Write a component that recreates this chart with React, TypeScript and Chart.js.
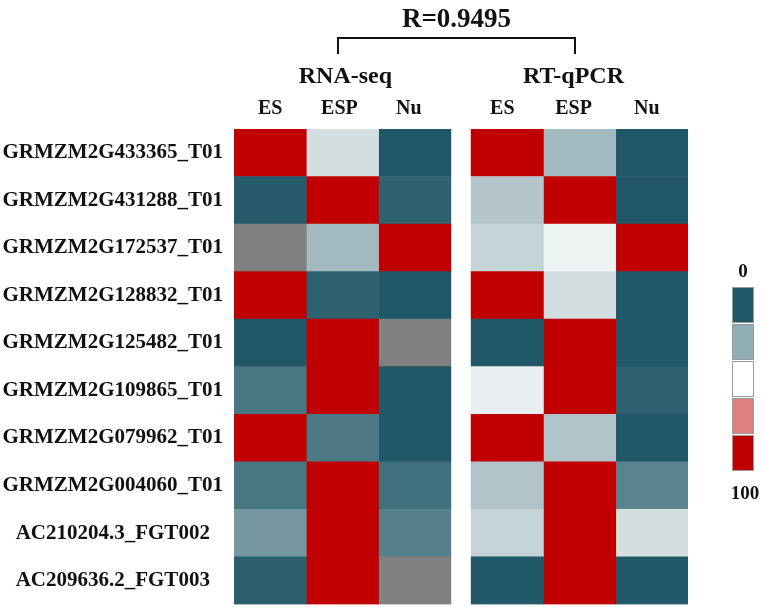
import React, { useEffect, useRef } from "react";
import { Chart, registerables } from "chart.js";

Chart.register(...registerables);

// ---------- data ----------
const genes = [
  "GRMZM2G433365_T01",
  "GRMZM2G431288_T01",
  "GRMZM2G172537_T01",
  "GRMZM2G128832_T01",
  "GRMZM2G125482_T01",
  "GRMZM2G109865_T01",
  "GRMZM2G079962_T01",
  "GRMZM2G004060_T01",
  "AC210204.3_FGT002",
  "AC209636.2_FGT003",
];
const sampleLabels = ["ES", "ESP", "Nu"];
const panelTitles = ["RNA-seq", "RT-qPCR"];
const correlationLabel = "R=0.9495";
const legendLevels = [0, 25, 50, 75, 100];
const legendMinLabel = "0";
const legendMaxLabel = "100";

// relative expression (0-100); null = no value (grey)
const rnaES = [100, 1, null, 100, 0, 9, 100, 9, 19, 2];
const rnaESP = [40, 100, 29, 3, 100, 100, 10, 100, 100, 100];
const rnaNu = [0, 3, 100, 0, null, 0, 0, 7, 12, null];
const qpcrES = [100, 33, 37, 100, 0, 45, 100, 32, 37, 0];
const qpcrESP = [29, 100, 46, 40, 100, 100, 32, 100, 100, 100];
const qpcrNu = [0, 0, 100, 0, 0, 3, 0, 13, 40, 0];

const columns = [rnaES, rnaESP, rnaNu, qpcrES, qpcrESP, qpcrNu];

// ---------- styling ----------
const TEAL = [33, 88, 104];
const WHITE = [255, 255, 255];
const RED = [192, 0, 0];
const NA_COLOR = "#808080";
const GAP = 0.28; // gap between the two panels, in column units
const FONT = "'Liberation Serif', 'Times New Roman', serif";
const HEADER_SHIFT = [0, -3, -6, -5, -6, -5];

function mix(a: number[], b: number[], t: number) {
  const c = a.map((v, i) => Math.round(v + (b[i] - v) * t));
  return `rgb(${c[0]},${c[1]},${c[2]})`;
}
function colorFor(v: number | null) {
  if (v === null || v === undefined) return NA_COLOR;
  if (v <= 50) return mix(TEAL, WHITE, v / 50);
  return mix(WHITE, RED, (v - 50) / 50);
}
function colStart(i: number) {
  return i + (i >= 3 ? GAP : 0);
}

const decorPlugin = {
  id: "decor",
  afterDraw(chart: any) {
    const ctx = chart.ctx as CanvasRenderingContext2D;
    const xs = chart.scales.x;
    ctx.save();
    ctx.fillStyle = "#111";
    ctx.textAlign = "center";
    ctx.textBaseline = "alphabetic";

    // column headers
    ctx.font = `bold 20px ${FONT}`;
    for (let i = 0; i < 6; i++) {
      const cx = xs.getPixelForValue(colStart(i) + 0.5) + HEADER_SHIFT[i];
      ctx.fillText(sampleLabels[i % 3], cx, 114);
    }
    // panel titles
    ctx.font = `bold 24px ${FONT}`;
    const p1 = xs.getPixelForValue(1.5) + 3;
    const p2 = xs.getPixelForValue(4.5 + GAP) - 6;
    ctx.fillText(panelTitles[0], p1, 83);
    ctx.fillText(panelTitles[1], p2, 83);

    // bracket
    const bl = 338, br = 575, btop = 38, bbot = 54;
    ctx.strokeStyle = "#111";
    ctx.lineWidth = 2;
    ctx.beginPath();
    ctx.moveTo(bl, bbot);
    ctx.lineTo(bl, btop);
    ctx.lineTo(br, btop);
    ctx.lineTo(br, bbot);
    ctx.stroke();

    // correlation
    ctx.font = `bold 27px ${FONT}`;
    ctx.fillText(correlationLabel, (bl + br) / 2, 27);

    // legend
    const lx = 732, lw = 22, ltop = 287, segH = 37;
    for (let k = 0; k < legendLevels.length; k++) {
      const y = ltop + k * segH;
      ctx.fillStyle = colorFor(legendLevels[k]);
      ctx.fillRect(lx, y, lw, segH - 1);
      ctx.strokeStyle = "#9a9a9a";
      ctx.lineWidth = 1;
      ctx.strokeRect(lx + 0.5, y + 0.5, lw - 1, segH - 2);
    }
    ctx.fillStyle = "#111";
    ctx.font = `bold 19px ${FONT}`;
    ctx.fillText(legendMinLabel, lx + lw / 2, ltop - 10);
    ctx.fillText(legendMaxLabel, lx + lw / 2 + 2, ltop + segH * legendLevels.length + 27);
    ctx.restore();
  },
};

export default function App() {
  const ref = useRef<HTMLCanvasElement | null>(null);
  useEffect(() => {
    if (!ref.current) return;
    const datasets = columns.map((vals, i) => ({
      label: `${panelTitles[i < 3 ? 0 : 1]} ${sampleLabels[i % 3]}`,
      data: vals.map(() => [colStart(i), colStart(i) + 1]),
      backgroundColor: vals.map((v) => colorFor(v)),
      borderWidth: 0,
      barPercentage: 1,
      categoryPercentage: 1,
      grouped: false,
    }));
    const chart = new Chart(ref.current, {
      type: "bar",
      data: { labels: genes, datasets: datasets as any },
      options: {
        indexAxis: "y",
        animation: false,
        responsive: false,
        maintainAspectRatio: false,
        layout: { padding: { left: 0, top: 129, right: 75, bottom: 5 } },
        plugins: { legend: { display: false }, tooltip: { enabled: false } },
        scales: {
          x: {
            type: "linear",
            min: 0,
            max: 6 + GAP,
            display: false,
          },
          y: {
            type: "category",
            grid: { display: false, drawTicks: false },
            border: { display: false },
            ticks: {
              crossAlign: "center",
              padding: 11,
              color: "#111",
              font: { family: FONT, weight: "bold", size: 21 },
            },
            afterFit(scale: any) {
              scale.width = 234;
            },
          },
        },
      },
      plugins: [decorPlugin],
    });
    return () => chart.destroy();
  }, []);
  // canvas is a little taller than the window so that the axis' label padding
  // falls below the visible area
  return (
    <div style={{ position: "fixed", left: 0, top: 0, width: 763, height: 628, background: "#fff" }}>
      <canvas ref={ref} width={763} height={628} style={{ width: 763, height: 628, display: "block" }} />
    </div>
  );
}
